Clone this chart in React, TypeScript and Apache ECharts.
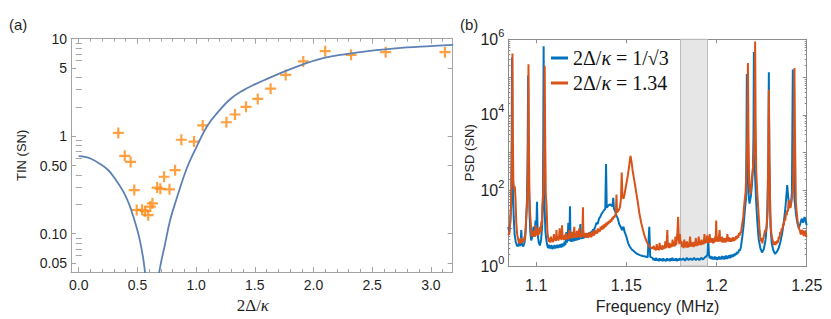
import React, { useEffect, useRef } from 'react';
import * as echarts from 'echarts';

// ---------- panel (a) data ----------
const tinTheoryLow: [number, number][] = [
  [0, 0.625], [0.05, 0.615], [0.1, 0.59], [0.181, 0.52], [0.25, 0.45], [0.3, 0.38], [0.38, 0.27],
  [0.43, 0.2], [0.465, 0.15], [0.5, 0.108], [0.522, 0.084], [0.545, 0.06], [0.56, 0.045], [0.59, 0.02],
];
const tinTheoryHigh: [number, number][] = [
  [0.66, 0.02], [0.687, 0.041], [0.735, 0.078], [0.78, 0.14], [0.835, 0.231], [0.92, 0.466],
  [1.0, 0.76], [1.1, 1.3], [1.2, 1.85], [1.3, 2.45], [1.4, 2.95], [1.5, 3.4], [1.6, 3.85],
  [1.75, 4.6], [1.9, 5.4], [2.1, 6.4], [2.4, 7.3], [2.7, 7.95], [3.0, 8.4], [3.19, 8.65],
];
const tinMeasured: [number, number][] = [
  [0.337, 1.08], [0.392, 0.63], [0.442, 0.545], [0.473, 0.28], [0.494, 0.175], [0.54, 0.176],
  [0.565, 0.17], [0.592, 0.155], [0.61, 0.19], [0.628, 0.205], [0.668, 0.297], [0.695, 0.289],
  [0.727, 0.384], [0.773, 0.285], [0.821, 0.448], [0.874, 0.92], [0.982, 0.88], [1.056, 1.29],
  [1.258, 1.39], [1.331, 1.67], [1.425, 2.0], [1.525, 2.41], [1.635, 3.07], [1.763, 4.25],
  [1.913, 5.85], [2.1, 7.45], [2.32, 6.83], [2.615, 7.28], [3.12, 7.28],
];
const ratioTicks = [0, 0.5, 1, 1.5, 2, 2.5, 3];
const ratioMinorTicks = [0.1, 0.2, 0.3, 0.4, 0.6, 0.7, 0.8, 0.9, 1.1, 1.2, 1.3, 1.4, 1.6, 1.7, 1.8, 1.9,
  2.1, 2.2, 2.3, 2.4, 2.6, 2.7, 2.8, 2.9, 3.1];
const tinTicks = [0.05, 0.1, 0.5, 1, 5, 10];
const tinTickLabels = ['0.05', '0.10', '0.50', '1', '5', '10'];
const tinMinorTicks = [0.06, 0.07, 0.08, 0.09, 0.2, 0.3, 0.4, 0.6, 0.7, 0.8, 0.9, 2, 3, 4, 6, 7, 8, 9];

// ---------- panel (b) data ----------
const blueName = 'ratioInvSqrt3';
const orangeName = 'ratio134';
const bluePsd: [number, number][] = [
  [1.0845, 11], [1.0850, 8], [1.0856, 14], [1.0861, 40], [1.0864, 3000], [1.0866, 330000], [1.0868, 3000],
  [1.0871, 80], [1.0875, 20], [1.0880, 7], [1.0886, 4.5], [1.0892, 3.6], [1.0898, 3.3], [1.0905, 4],
  [1.0912, 3.4], [1.0917, 9], [1.0921, 3.8], [1.0928, 3.3], [1.0935, 4.2], [1.0942, 10], [1.0948, 40],
  [1.0952, 600], [1.0955, 110000], [1.0958, 600], [1.0962, 30], [1.0967, 8], [1.0972, 4.8], [1.0978, 6],
  [1.0985, 11], [1.0990, 6], [1.0996, 16], [1.1000, 7], [1.1004, 50], [1.1008, 7], [1.1014, 4.2],
  [1.1020, 3.5], [1.1027, 5], [1.1033, 12], [1.1037, 60], [1.1039, 3000], [1.1041, 650000], [1.1043, 3000],
  [1.1046, 40], [1.1051, 8], [1.1057, 4.5], [1.1061, 3.6], [1.1065, 3.0], [1.1069, 3.7], [1.1073, 2.9],
  [1.1077, 3.5], [1.1081, 2.9], [1.1085, 3.6], [1.1089, 2.8], [1.1093, 3.4], [1.1097, 2.9], [1.1101, 3.6],
  [1.1105, 2.9], [1.1109, 3.5], [1.1113, 3.0], [1.1117, 3.7], [1.1121, 3.0], [1.1125, 3.6], [1.1129, 3.1],
  [1.1133, 3.8], [1.1137, 3.1], [1.1141, 3.9], [1.1145, 3.2], [1.1149, 4], [1.1153, 3.4], [1.1157, 4.4],
  [1.1161, 3.6], [1.1165, 5], [1.1167, 8], [1.1170, 4.2], [1.1174, 5.2], [1.1178, 14], [1.1181, 4.6],
  [1.1184, 5.5], [1.1187, 38], [1.1190, 5.5], [1.1194, 4.4], [1.1198, 5.4], [1.1202, 4.5], [1.1206, 5.8],
  [1.1210, 4.6], [1.1214, 5.6], [1.1218, 4.7], [1.1222, 6], [1.1226, 4.8], [1.1230, 6.2], [1.1233, 8],
  [1.1236, 5], [1.1240, 6], [1.1245, 13], [1.1248, 5.2], [1.1252, 6.5], [1.1256, 5.3], [1.1260, 6.8],
  [1.1264, 5.4], [1.1268, 7], [1.1272, 5.6], [1.1276, 7.2], [1.1280, 5.8], [1.1284, 7.4], [1.1288, 6],
  [1.1292, 7.6], [1.1296, 6.2], [1.1300, 8], [1.1304, 6.8], [1.1308, 8.6], [1.1312, 7.5], [1.1316, 9.5],
  [1.1320, 9], [1.1327, 11], [1.1334, 14], [1.1341, 13], [1.1348, 18], [1.1355, 20], [1.1362, 24],
  [1.1369, 27], [1.1376, 30], [1.1383, 33], [1.1387, 500], [1.1391, 35], [1.1398, 39], [1.1405, 42],
  [1.1411, 43], [1.1417, 40], [1.1423, 38], [1.1427, 64], [1.1431, 33], [1.1438, 28], [1.1446, 21],
  [1.1453, 18], [1.1460, 13], [1.1468, 11], [1.1476, 9], [1.1484, 11], [1.1490, 8], [1.1500, 6],
  [1.1510, 4], [1.1520, 3.2], [1.1532, 2.7], [1.1545, 2.4], [1.1560, 2.1], [1.1575, 1.95], [1.1590, 1.85],
  [1.1605, 1.8], [1.1618, 1.7], [1.1627, 11], [1.1632, 1.75], [1.1645, 1.65], [1.1650, 1.45], [1.1655, 1.6],
  [1.1660, 1.4], [1.1665, 1.65], [1.1670, 1.4], [1.1675, 1.55], [1.1680, 1.35], [1.1685, 1.6], [1.1690, 1.4],
  [1.1695, 1.55], [1.1700, 1.35], [1.1705, 1.6], [1.1710, 1.4], [1.1715, 1.5], [1.1720, 1.35], [1.1725, 1.6],
  [1.1730, 1.4], [1.1735, 1.55], [1.1740, 1.35], [1.1745, 1.6], [1.1750, 1.4], [1.1755, 1.65], [1.1760, 1.4],
  [1.1765, 1.55], [1.1770, 1.4], [1.1775, 1.6], [1.1780, 1.35], [1.1785, 1.55], [1.1790, 1.4], [1.1795, 1.6],
  [1.1805, 1.45], [1.1815, 1.6], [1.1825, 1.4], [1.1835, 1.65], [1.1845, 1.45], [1.1855, 1.6],
  [1.1865, 1.45], [1.1875, 1.65], [1.1885, 1.45], [1.1895, 1.6], [1.1905, 1.45], [1.1915, 1.65],
  [1.1925, 1.5], [1.1935, 1.7], [1.1943, 1.8], [1.1950, 2.0], [1.1954, 5], [1.1958, 2.0],
  [1.1962, 1.6], [1.1966, 1.85], [1.1970, 1.55], [1.1974, 1.8], [1.1978, 1.5], [1.1982, 1.75], [1.1986, 1.5],
  [1.1990, 1.8], [1.1994, 1.5], [1.1998, 1.75], [1.2002, 1.45], [1.2006, 1.7], [1.2010, 1.5], [1.2014, 1.8],
  [1.2018, 1.5], [1.2022, 1.75], [1.2026, 1.5], [1.2030, 1.85], [1.2034, 1.55], [1.2038, 1.8], [1.2042, 1.5],
  [1.2046, 1.85], [1.2050, 1.55], [1.2054, 1.9], [1.2058, 1.55], [1.2062, 1.85], [1.2066, 1.6], [1.2070, 1.95],
  [1.2074, 1.6], [1.2078, 2.0], [1.2082, 1.7], [1.2086, 2.0], [1.2090, 1.75], [1.2095, 2.1], [1.2100, 1.85],
  [1.2105, 2.2], [1.2110, 2.0], [1.2115, 2.4], [1.2120, 2.2], [1.2125, 2.7], [1.2130, 2.6], [1.2135, 3.2],
  [1.2143, 6], [1.2150, 12], [1.2157, 30], [1.2163, 60], [1.2166, 2000], [1.2168, 120000], [1.2170, 2000],
  [1.2176, 90], [1.2183, 45], [1.2190, 70], [1.2197, 150], [1.2202, 400], [1.2205, 3000], [1.2207, 460000],
  [1.2209, 3000], [1.2213, 300], [1.2219, 60], [1.2226, 15], [1.2234, 5], [1.2243, 3], [1.2252, 2.3],
  [1.2262, 2.8], [1.2272, 5], [1.2280, 15], [1.2287, 600], [1.2290, 135000], [1.2293, 600], [1.2299, 12],
  [1.2306, 4], [1.2315, 2.6], [1.2325, 2.1], [1.2335, 2.4], [1.2345, 3.0], [1.2355, 4.5], [1.2365, 8],
  [1.2374, 16], [1.2382, 35], [1.2388, 80], [1.2392, 140], [1.2397, 70], [1.2405, 35], [1.2413, 45],
  [1.2418, 90], [1.2420, 2000], [1.2423, 160000], [1.2426, 2000], [1.2432, 60], [1.2440, 25],
  [1.2448, 14], [1.2456, 10], [1.2464, 13], [1.2472, 18], [1.2480, 14], [1.2488, 20], [1.2495, 15],
  [1.2500, 12],
];
const orangePsd: [number, number][] = [
  [1.0845, 6.6], [1.0851, 7.5], [1.0857, 20], [1.0862, 80], [1.0866, 3000], [1.0868, 420000], [1.0870, 3000],
  [1.0873, 180], [1.0877, 110], [1.0881, 130], [1.0885, 60], [1.0889, 15], [1.0894, 7], [1.0900, 5],
  [1.0904, 4.0], [1.0907, 5.2], [1.0911, 4.2], [1.0914, 5.5], [1.0917, 4.0], [1.0920, 5], [1.0924, 4.2],
  [1.0927, 5.2], [1.0931, 4.4], [1.0934, 6], [1.0938, 5], [1.0941, 9], [1.0946, 30],
  [1.0951, 80], [1.0955, 3000], [1.0957, 220000], [1.0959, 3000], [1.0962, 100], [1.0966, 25], [1.0971, 11],
  [1.0974, 6], [1.0977, 8], [1.0980, 6.2], [1.0984, 8.5], [1.0987, 6], [1.0991, 7.5], [1.0994, 6], [1.0997, 12],
  [1.1000, 7], [1.1002, 9], [1.1005, 6.5], [1.1008, 10], [1.1011, 6.5], [1.1014, 8], [1.1018, 7],
  [1.1021, 11], [1.1025, 8], [1.1028, 15], [1.1031, 12], [1.1034, 40], [1.1039, 90], [1.1044, 1500],
  [1.1047, 200000], [1.1050, 1500], [1.1053, 80], [1.1057, 40], [1.1062, 8], [1.1066, 5.5], [1.1070, 4.4],
  [1.1074, 5.6], [1.1078, 4.2], [1.1082, 6], [1.1086, 4.5], [1.1090, 5.2], [1.1094, 4.3], [1.1098, 7],
  [1.1102, 4.8], [1.1106, 5.5], [1.1110, 4.6], [1.1112, 9], [1.1115, 5], [1.1119, 6.2], [1.1123, 4.7],
  [1.1127, 6.5], [1.1130, 10], [1.1133, 5.2], [1.1137, 6], [1.1140, 4.9], [1.1143, 12], [1.1146, 5.2],
  [1.1150, 6.4], [1.1154, 4.9], [1.1158, 6.8], [1.1162, 5], [1.1166, 7.5], [1.1170, 5.2], [1.1174, 6.3],
  [1.1178, 5], [1.1182, 7], [1.1184, 9], [1.1187, 5.5], [1.1191, 7.2], [1.1195, 5.4], [1.1199, 8],
  [1.1203, 5.6], [1.1207, 7], [1.1211, 11], [1.1214, 5.8], [1.1218, 7.5], [1.1222, 5.6], [1.1226, 8.5],
  [1.1230, 5.8], [1.1234, 7], [1.1239, 10], [1.1242, 5.8], [1.1246, 7.4], [1.1250, 5.6], [1.1254, 7],
  [1.1257, 12], [1.1259, 36], [1.1261, 9], [1.1265, 6], [1.1269, 7.4], [1.1273, 5.6], [1.1277, 7.6],
  [1.1281, 5.8], [1.1285, 7.2], [1.1289, 5.6], [1.1293, 7.8], [1.1297, 6], [1.1301, 7.4], [1.1305, 5.8],
  [1.1309, 8], [1.1313, 6.2], [1.1317, 8.4], [1.1321, 6.4], [1.1325, 9], [1.1329, 7], [1.1333, 8.6],
  [1.1337, 7.2], [1.1341, 10], [1.1345, 7.8], [1.1349, 9.6], [1.1353, 8.2], [1.1357, 11], [1.1361, 9],
  [1.1365, 11.5], [1.1369, 9.4], [1.1373, 12.5], [1.1377, 10], [1.1381, 13], [1.1385, 11], [1.1389, 14],
  [1.1393, 12], [1.1397, 15], [1.1401, 13], [1.1405, 16], [1.1409, 14], [1.1413, 17], [1.1417, 15],
  [1.1421, 19], [1.1425, 17], [1.1429, 21], [1.1433, 19], [1.1437, 23], [1.1441, 21], [1.1445, 78],
  [1.1448, 26], [1.1452, 28], [1.1457, 30], [1.1464, 36], [1.1470, 60], [1.1474, 300], [1.1478, 70],
  [1.1484, 60], [1.1490, 80], [1.1496, 120], [1.1502, 170], [1.1508, 250], [1.1514, 400], [1.1519, 620],
  [1.1523, 820], [1.1528, 600], [1.1534, 350], [1.1541, 220], [1.1548, 140], [1.1556, 80], [1.1563, 50],
  [1.1572, 25], [1.1582, 14], [1.1592, 9], [1.1602, 6], [1.1612, 4.5], [1.1622, 3.6], [1.1632, 3.2],
  [1.1642, 2.9], [1.1652, 3.4], [1.1656, 2.7], [1.1660, 3.1], [1.1664, 2.6], [1.1668, 3.8], [1.1672, 2.7],
  [1.1676, 3.2], [1.1680, 2.6], [1.1684, 4.1], [1.1688, 2.8], [1.1692, 3.3], [1.1696, 2.7], [1.1700, 3.6],
  [1.1704, 2.8], [1.1708, 3.4], [1.1712, 2.9], [1.1716, 4.5], [1.1720, 3.0], [1.1723, 3.6], [1.1727, 9],
  [1.1730, 3.2], [1.1733, 3.8], [1.1736, 3.0], [1.1740, 4.1], [1.1744, 3.1], [1.1748, 3.8], [1.1752, 3.2],
  [1.1756, 5], [1.1760, 3.4], [1.1764, 4.4], [1.1768, 3.3], [1.1772, 6], [1.1776, 3.6], [1.1779, 4.6],
  [1.1783, 8], [1.1787, 20], [1.1791, 5], [1.1794, 3.8], [1.1797, 7], [1.1801, 4], [1.1805, 4.6],
  [1.1809, 3.2], [1.1813, 4.2], [1.1817, 3.0], [1.1821, 5], [1.1825, 3.2], [1.1829, 4.4], [1.1833, 3.1],
  [1.1837, 4.5], [1.1841, 3.1], [1.1845, 4.0], [1.1849, 3.2], [1.1853, 6], [1.1857, 3.3], [1.1861, 4.4],
  [1.1865, 3.3], [1.1869, 4.2], [1.1873, 3.2], [1.1877, 4.4], [1.1881, 3.4], [1.1885, 5.5], [1.1889, 3.4],
  [1.1893, 4.4], [1.1897, 3.5], [1.1901, 6], [1.1905, 3.6], [1.1909, 4.6], [1.1913, 3.6], [1.1917, 5],
  [1.1921, 3.7], [1.1925, 4.6], [1.1929, 3.8], [1.1933, 7], [1.1937, 4], [1.1941, 5.2], [1.1944, 4.1],
  [1.1948, 6.5], [1.1951, 4.2], [1.1955, 5.4], [1.1958, 4.1], [1.1962, 7], [1.1965, 4.2], [1.1969, 5.6],
  [1.1972, 4.2], [1.1976, 5.5], [1.1980, 4.0], [1.1984, 5.4], [1.1988, 4.2], [1.1992, 6], [1.1995, 4.4],
  [1.1998, 16], [1.2001, 5], [1.2003, 4.5], [1.2007, 6], [1.2010, 4.4], [1.2014, 6.5], [1.2017, 9],
  [1.2020, 4.6], [1.2024, 5.8], [1.2028, 4.3], [1.2031, 6], [1.2035, 4.2], [1.2038, 5.4], [1.2042, 4.3],
  [1.2045, 5.5], [1.2048, 4.2], [1.2052, 5.6], [1.2056, 4.4], [1.2060, 7], [1.2064, 4.5], [1.2068, 5.8],
  [1.2072, 4.4], [1.2076, 5.5], [1.2080, 4.4], [1.2084, 5.6], [1.2088, 4.5], [1.2092, 5.8], [1.2096, 4.6],
  [1.2100, 5.6], [1.2104, 4.8], [1.2108, 6.2], [1.2112, 5.2], [1.2116, 6.5], [1.2120, 5.6], [1.2124, 7.4],
  [1.2128, 6.4], [1.2132, 8], [1.2136, 7.5], [1.2140, 11], [1.2148, 20], [1.2155, 50], [1.2161, 90],
  [1.2166, 400], [1.2171, 3000], [1.2174, 235000], [1.2177, 3000], [1.2181, 150], [1.2188, 80],
  [1.2195, 200], [1.2201, 350], [1.2208, 1000], [1.2211, 6000], [1.2214, 870000], [1.2217, 6000],
  [1.2220, 350], [1.2225, 100], [1.2231, 35], [1.2238, 10], [1.2242, 6], [1.2246, 4.5], [1.2250, 5.5],
  [1.2254, 4], [1.2258, 5.2], [1.2262, 6], [1.2266, 7.5], [1.2270, 9], [1.2274, 8], [1.2278, 12],
  [1.2284, 30], [1.2287, 800], [1.2290, 46000], [1.2293, 800], [1.2298, 25], [1.2302, 9], [1.2305, 7],
  [1.2309, 5.2], [1.2313, 4.5], [1.2317, 3.6], [1.2321, 4.4], [1.2325, 3.6], [1.2329, 4.5], [1.2333, 3.8],
  [1.2337, 4.8], [1.2341, 4.2], [1.2345, 6], [1.2349, 5.2], [1.2353, 8], [1.2357, 7], [1.2361, 10],
  [1.2365, 9], [1.2369, 13], [1.2373, 12], [1.2377, 18], [1.2381, 16], [1.2385, 25], [1.2389, 22],
  [1.2392, 30], [1.2396, 28], [1.2400, 55], [1.2404, 34], [1.2407, 40], [1.2411, 35], [1.2414, 48],
  [1.2420, 70], [1.2425, 150], [1.2429, 3000], [1.2432, 175000], [1.2435, 3000], [1.2440, 50],
  [1.2444, 28], [1.2447, 20], [1.2450, 15], [1.2454, 12], [1.2458, 9.5], [1.2462, 9], [1.2466, 7.2],
  [1.2470, 7], [1.2474, 9], [1.2478, 8.5], [1.2482, 6.5], [1.2486, 6.5], [1.2490, 8.5], [1.2494, 8],
  [1.2497, 6], [1.2500, 6.5],
];
const freqTicks = [1.1, 1.15, 1.2, 1.25];
const freqTickLabels = ['1.1', '1.15', '1.2', '1.25'];
const psdDecades = [1, 10, 100, 1e3, 1e4, 1e5, 1e6];
const psdLabelTicks = [1, 100, 1e4, 1e6];
const psdMinorTicks = [2, 3, 4, 5, 6, 7, 8, 9, 20, 30, 40, 50, 60, 70, 80, 90, 200, 300, 400, 500, 600, 700, 800, 900,
  2e3, 3e3, 4e3, 5e3, 6e3, 7e3, 8e3, 9e3, 2e4, 3e4, 4e4, 5e4, 6e4, 7e4, 8e4, 9e4,
  2e5, 3e5, 4e5, 5e5, 6e5, 7e5, 8e5, 9e5];
const blockedBand = [1.18, 1.195];

const pickLabel = (ticks: number[], labels: string[], v: number) => {
  let best = 0;
  for (let i = 1; i < ticks.length; i++) {
    if (Math.abs(Math.log(ticks[i] / v)) < Math.abs(Math.log(ticks[best] / v))) best = i;
  }
  return labels[best];
};
const pickLin = (ticks: number[], labels: string[], v: number) => {
  let best = 0;
  for (let i = 1; i < ticks.length; i++) if (Math.abs(ticks[i] - v) < Math.abs(ticks[best] - v)) best = i;
  return labels[best];
};

export default function App() {
  const ref = useRef<HTMLDivElement>(null);
  useEffect(() => {
    if (!ref.current) return;
    const chart = echarts.init(ref.current, undefined, { renderer: 'svg' });
    const fa = '#a3a3a3';
    const fb = '#8c8c8c';
    const txt = '#1f1f1f';
    const sans = 'Liberation Sans';
    const xMinA = -0.066, xMaxA = 3.186, yMinA = 0.0405, yMaxA = 10;
    const xMinB = 1.0845, xMaxB = 1.25;
    const hidden = { show: false };
    const baseX = (grid: number, min: number, max: number) => ({
      gridIndex: grid, type: 'value', min, max, splitLine: hidden,
    });
    const baseYLog = (grid: number, min: number, max: number) => ({
      gridIndex: grid, type: 'log', logBase: 10, min, max, splitLine: hidden,
    });
    const option: any = {
      animation: false,
      grid: [
        { left: 71, top: 38.7, width: 381.7, height: 235.3 },
        { left: 508.3, top: 39.3, width: 298.4, height: 234.7 },
      ],
      graphic: [
        { type: 'text', left: 9, top: 17, style: { text: '(a)', fontSize: 15, fontFamily: sans, fill: txt } },
        { type: 'text', left: 460, top: 17, style: { text: '(b)', fontSize: 15, fontFamily: sans, fill: txt } },
      ],
      legend: {
        data: [blueName, orangeName], orient: 'vertical', left: 551, top: 48, padding: 0, icon: 'rect',
        itemWidth: 17, itemHeight: 3, itemGap: 5, selectedMode: false,
        formatter: (name: string) => name === blueName
          ? '{u|2Δ/}{i|κ}{u| = 1/√3}' : '{u|2Δ/}{i|κ}{u| = 1.34}',
        textStyle: {
          rich: {
            u: { fontFamily: 'Liberation Serif', fontSize: 20, lineHeight: 20, color: '#111' },
            i: { fontFamily: 'Liberation Serif', fontSize: 20, lineHeight: 20, fontStyle: 'italic', color: '#111' },
          },
        },
      },
      xAxis: [
        {
          ...baseX(0, xMinA, xMaxA), position: 'bottom',
          axisLine: { show: true, onZero: false, lineStyle: { color: fa } },
          axisTick: { show: true, inside: true, length: 5, customValues: ratioTicks, lineStyle: { color: fa } },
          axisLabel: { customValues: ratioTicks, formatter: (v: number) => v.toFixed(1), fontSize: 14, fontFamily: sans, color: txt, margin: 6 },
          name: '{u|2Δ/}{i|κ}', nameLocation: 'middle', nameGap: 25,
          nameTextStyle: {
            padding: [0, 18, 0, 0],
            rich: {
              u: { fontFamily: 'Liberation Serif', fontSize: 17, color: txt },
              i: { fontFamily: 'Liberation Serif', fontSize: 17, fontStyle: 'italic', color: txt },
            },
          },
        },
        {
          ...baseX(0, xMinA, xMaxA), position: 'bottom', axisLine: hidden, axisLabel: hidden,
          axisTick: { show: true, inside: true, length: 3, customValues: ratioMinorTicks, lineStyle: { color: fa } },
        },
        {
          ...baseX(0, xMinA, xMaxA), position: 'top', axisLabel: hidden,
          axisLine: { show: true, onZero: false, lineStyle: { color: fa } },
          axisTick: { show: true, inside: true, length: 5, customValues: ratioTicks, lineStyle: { color: fa } },
        },
        {
          ...baseX(0, xMinA, xMaxA), position: 'top', axisLine: hidden, axisLabel: hidden,
          axisTick: { show: true, inside: true, length: 3, customValues: ratioMinorTicks, lineStyle: { color: fa } },
        },
        {
          ...baseX(1, xMinB, xMaxB), position: 'bottom',
          axisLine: { show: true, onZero: false, lineStyle: { color: fb } },
          axisTick: { show: true, inside: true, length: 4, customValues: freqTicks, lineStyle: { color: fb } },
          axisLabel: { customValues: freqTicks, formatter: (v: number) => pickLin(freqTicks, freqTickLabels, v), fontSize: 16, fontFamily: sans, color: txt, margin: 11 },
          name: 'Frequency (MHz)', nameLocation: 'middle', nameGap: 28,
          nameTextStyle: { fontSize: 16, fontFamily: sans, color: txt },
        },
        {
          ...baseX(1, xMinB, xMaxB), position: 'top', axisLabel: hidden,
          axisLine: { show: true, onZero: false, lineStyle: { color: fb } },
          axisTick: { show: true, inside: true, length: 4, customValues: freqTicks, lineStyle: { color: fb } },
        },
      ],
      yAxis: [
        {
          ...baseYLog(0, yMinA, yMaxA), position: 'left',
          axisLine: { show: true, onZero: false, lineStyle: { color: fa } },
          axisTick: { show: true, inside: true, length: 5, customValues: tinTicks, lineStyle: { color: fa } },
          axisLabel: { customValues: tinTicks, formatter: (v: number) => pickLabel(tinTicks, tinTickLabels, v), fontSize: 14, fontFamily: sans, color: txt, margin: 4 },
          name: 'TIN (SN)', nameLocation: 'middle', nameGap: 43,
          nameTextStyle: { fontSize: 13, fontFamily: sans, color: txt },
        },
        {
          ...baseYLog(0, yMinA, yMaxA), position: 'left', axisLine: hidden, axisLabel: hidden,
          axisTick: { show: true, inside: true, length: 3, customValues: tinMinorTicks, lineStyle: { color: fa } },
        },
        {
          ...baseYLog(0, yMinA, yMaxA), position: 'right', axisLabel: hidden,
          axisLine: { show: true, onZero: false, lineStyle: { color: fa } },
          axisTick: { show: true, inside: true, length: 5, customValues: tinTicks, lineStyle: { color: fa } },
        },
        {
          ...baseYLog(0, yMinA, yMaxA), position: 'right', axisLine: hidden, axisLabel: hidden,
          axisTick: { show: true, inside: true, length: 3, customValues: tinMinorTicks, lineStyle: { color: fa } },
        },
        {
          ...baseYLog(1, 1, 1e6), position: 'left',
          axisLine: { show: true, onZero: false, lineStyle: { color: fb } },
          axisTick: { show: true, inside: true, length: 4, customValues: psdDecades, lineStyle: { color: fb } },
          axisLabel: {
            customValues: psdLabelTicks, margin: 4,
            formatter: (v: number) => `{b|10}{s|${Math.round(Math.log10(v))}}`,
            rich: {
              b: { fontSize: 16, lineHeight: 24, fontFamily: sans, color: txt },
              s: { fontSize: 11, lineHeight: 11, verticalAlign: 'top', fontFamily: sans, color: txt },
            },
          },
          name: 'PSD (SN)', nameLocation: 'middle', nameGap: 32,
          nameTextStyle: { fontSize: 13, fontFamily: sans, color: txt },
        },
        {
          ...baseYLog(1, 1, 1e6), position: 'left', axisLine: hidden, axisLabel: hidden,
          axisTick: { show: true, inside: true, length: 2, customValues: psdMinorTicks, lineStyle: { color: fb } },
        },
        {
          ...baseYLog(1, 1, 1e6), position: 'right', axisLabel: hidden,
          axisLine: { show: true, onZero: false, lineStyle: { color: fb } },
          axisTick: { show: true, inside: true, length: 4, customValues: psdDecades, lineStyle: { color: fb } },
        },
        {
          ...baseYLog(1, 1, 1e6), position: 'right', axisLine: hidden, axisLabel: hidden,
          axisTick: { show: true, inside: true, length: 2, customValues: psdMinorTicks, lineStyle: { color: fb } },
        },
      ],
      series: [
        {
          type: 'line', xAxisIndex: 0, yAxisIndex: 0, data: tinTheoryLow, smooth: 0.4, showSymbol: false,
          symbol: 'none', lineStyle: { color: '#5E81B5', width: 1.8 }, silent: true,
        },
        {
          type: 'line', xAxisIndex: 0, yAxisIndex: 0, data: tinTheoryHigh, smooth: 0.4, showSymbol: false,
          symbol: 'none', lineStyle: { color: '#5E81B5', width: 1.8 }, silent: true,
        },
        {
          type: 'scatter', xAxisIndex: 0, yAxisIndex: 0, data: tinMeasured, silent: true,
          symbol: 'path://M-1.2,-6L1.2,-6L1.2,-1.2L6,-1.2L6,1.2L1.2,1.2L1.2,6L-1.2,6L-1.2,1.2L-6,1.2L-6,-1.2L-1.2,-1.2Z',
          symbolSize: 11, itemStyle: { color: '#FF8A14' },
        },
        {
          name: blueName, type: 'line', xAxisIndex: 4, yAxisIndex: 4, data: bluePsd, symbol: 'none',
          showSymbol: false, lineStyle: { color: '#0072BD', width: 2 },
          itemStyle: { color: '#0072BD' }, silent: true,
        },
        {
          name: orangeName, type: 'line', xAxisIndex: 4, yAxisIndex: 4, data: orangePsd, symbol: 'none',
          showSymbol: false, lineStyle: { color: '#D95319', width: 2 },
          itemStyle: { color: '#D95319' }, silent: true,
        },
        {
          type: 'line', xAxisIndex: 4, yAxisIndex: 4, data: [], z: 5, silent: true,
          markArea: {
            silent: true,
            itemStyle: { color: 'rgba(220,220,220,0.7)', borderColor: '#bbbbbb', borderWidth: 1 },
            data: [[{ xAxis: blockedBand[0] }, { xAxis: blockedBand[1] }]],
          },
        },
      ],
    };
    chart.setOption(option);
    return () => chart.dispose();
  }, []);
  return (
    <div
      ref={ref}
      style={{ position: 'absolute', left: 0, top: 0, width: 831, height: 319, background: '#fff' }}
    />
  );
}
